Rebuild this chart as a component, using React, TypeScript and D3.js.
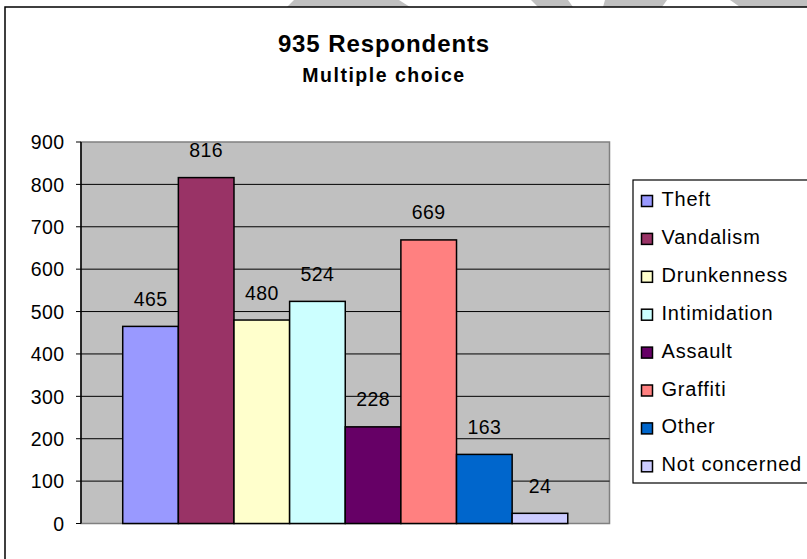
import React from "react";
import * as d3 from "d3";

const categories = ["Theft", "Vandalism", "Drunkenness", "Intimidation", "Assault", "Graffiti", "Other", "Not concerned"];
const values = [465, 816, 480, 524, 228, 669, 163, 24];
const colors = ["#9999FF", "#993366", "#FFFFCC", "#CCFFFF", "#660066", "#FF8080", "#0066CC", "#CCCCFF"];
const yTicks = [0, 100, 200, 300, 400, 500, 600, 700, 800, 900];
const titleText = "935 Respondents";
const subtitleText = "Multiple choice";

const W = 807;
const H = 559;
const plot = { left: 81, right: 609.5, top: 142, bottom: 523.5 };
const FONT = "'Liberation Sans', Arial, sans-serif";

export default function App() {
  const y = d3.scaleLinear().domain([0, 900]).range([plot.bottom, plot.top]);
  const plotW = plot.right - plot.left;
  const barW = plotW / (categories.length + 1.5);
  const side = (plotW - barW * categories.length) / 2;
  const x = d3
    .scaleBand<string>()
    .domain(categories)
    .range([plot.left + side, plot.right - side])
    .padding(0);

  const legendX = 633;
  const legendTop = 180;
  const legendBottom = 483;
  const legendFirstBaseline = 206;
  const legendStep = 37.9;

  return (
    <div style={{ position: "absolute", left: 0, top: 0, margin: 0 }}>
      <svg width={W} height={H} style={{ display: "block", background: "#fff" }}>
        {/* background shapes above chart border */}
        <g fill="#C0C0C0">
          <polygon points="294,0 399,0 410,7 287,7" />
          <polygon points="531,0 568,0 573,7 538,7" />
          <polygon points="605,0 667,0 662,7 603,7" />
          <polygon points="730,0 807,0 807,7 740,7" />
        </g>
        {/* chart area */}
        <rect x={5} y={7} width={W + 20} height={H + 20} fill="#fff" stroke="#000" strokeWidth={1.5} />

        {/* titles */}
        <text x={384} y={51.7} textAnchor="middle" fontFamily={FONT} fontWeight="bold" fontSize={24} letterSpacing={0.9} fill="#000">
          {titleText}
        </text>
        <text x={384} y={82.3} textAnchor="middle" fontFamily={FONT} fontWeight="bold" fontSize={19.5} letterSpacing={1.5} fill="#000">
          {subtitleText}
        </text>

        {/* plot area */}
        <rect x={plot.left} y={plot.top} width={plotW} height={plot.bottom - plot.top} fill="#C0C0C0" stroke="#808080" strokeWidth={1.5} />

        {/* gridlines */}
        {yTicks.filter((t) => t > 0 && t < 900).map((t) => (
          <line key={"g" + t} x1={plot.left} x2={plot.right} y1={y(t)} y2={y(t)} stroke="#000" strokeWidth={1} />
        ))}

        {/* bars */}
        {categories.map((c, i) => (
          <rect
            key={c}
            x={x(c)!}
            y={y(values[i])}
            width={x.bandwidth()}
            height={y(0) - y(values[i])}
            fill={colors[i]}
            stroke="#000"
            strokeWidth={1.5}
          />
        ))}

        {/* y axis */}
        <line x1={plot.left} x2={plot.left} y1={plot.top} y2={plot.bottom} stroke="#000" strokeWidth={1.5} />
        {yTicks.map((t) => (
          <g key={"t" + t}>
            <line x1={plot.left - 5} x2={plot.left} y1={y(t)} y2={y(t)} stroke="#000" strokeWidth={1} />
            <text x={64.5} y={y(t) + 7.3} textAnchor="end" fontFamily={FONT} fontSize={19.5} letterSpacing={0.4} fill="#000">
              {t}
            </text>
          </g>
        ))}

        {/* data labels */}
        {categories.map((c, i) => (
          <text
            key={"l" + c}
            x={x(c)! + x.bandwidth() / 2}
            y={y(values[i]) - 20.5}
            textAnchor="middle"
            fontFamily={FONT}
            fontSize={19.5}
            letterSpacing={0.4}
            fill="#000"
          >
            {values[i]}
          </text>
        ))}

        {/* legend */}
        <rect x={legendX} y={legendTop} width={W} height={legendBottom - legendTop} fill="#fff" stroke="#000" strokeWidth={1.2} />
        {categories.map((c, i) => {
          const by = legendFirstBaseline + i * legendStep;
          return (
            <g key={"lg" + c}>
              <rect x={641.5} y={by - 10.5} width={11} height={11} fill={colors[i]} stroke="#000" strokeWidth={1.5} />
              <text x={661.5} y={by} fontFamily={FONT} fontSize={20} letterSpacing={0.8} fill="#000">
                {c}
              </text>
            </g>
          );
        })}
      </svg>
    </div>
  );
}
